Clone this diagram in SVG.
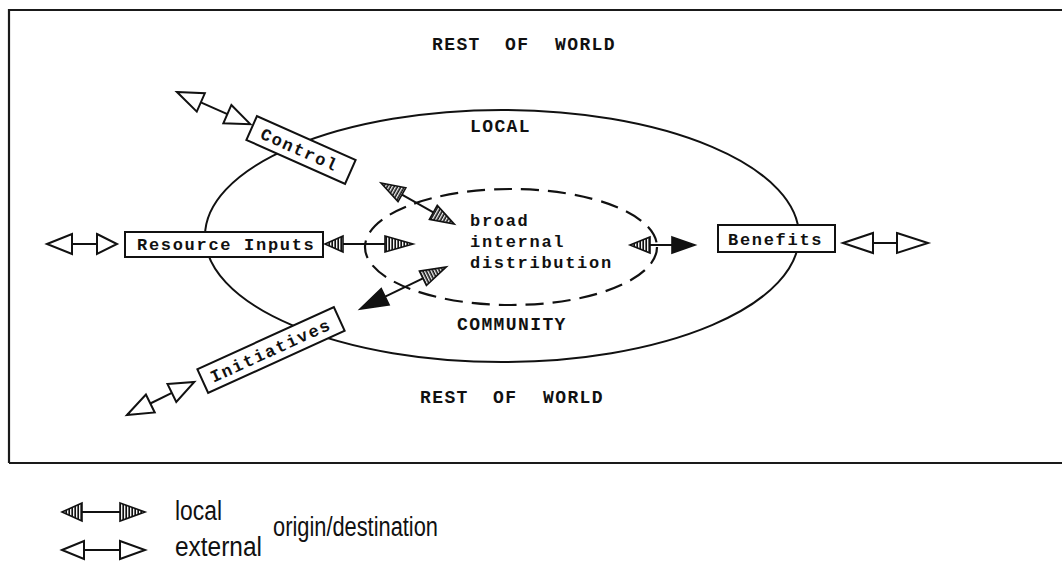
<svg xmlns="http://www.w3.org/2000/svg" width="1062" height="568" viewBox="0 0 1062 568">
<style>
.frame{fill:none;stroke:#1a1a1a;stroke-width:2.2}
.ell{fill:none;stroke:#111;stroke-width:2}
.dash{fill:none;stroke:#111;stroke-width:2.2;stroke-dasharray:18 9}
.box{fill:#fff;stroke:#111;stroke-width:2}
.mono{font-family:"Liberation Mono","DejaVu Sans Mono",monospace;font-size:17px;font-weight:bold;letter-spacing:1.7px;fill:#111}
.cap{font-family:"Liberation Mono","DejaVu Sans Mono",monospace;font-size:18px;font-weight:bold;letter-spacing:1.4px;fill:#111}
.leg{font-family:"Liberation Sans Narrow","Liberation Sans",Arial,sans-serif;font-size:27px;fill:#111}
.ext{fill:#fff;stroke:#111;stroke-width:2;stroke-linejoin:miter}
.shaft{stroke:#111;stroke-width:2;fill:none}
.loc{fill:url(#hatch);stroke:#111;stroke-width:1.6}
.solid{fill:#111;stroke:#111;stroke-width:1.6}
</style>
<defs>
<pattern id="hatch" patternUnits="userSpaceOnUse" width="3" height="3">
<rect width="3" height="3" fill="#fff"/>
<line x1="1.2" y1="0" x2="1.2" y2="3" stroke="#111" stroke-width="1.7"/>
</pattern>
</defs>

<!-- frame -->
<g id="frame">
<path class="frame" d="M9,463 L9,10 L1062,10"/>
<path class="frame" d="M9,463 L1062,463"/>
</g>

<!-- regions -->
<g id="local-community">
<ellipse class="ell" cx="502" cy="236" rx="297" ry="126"/>
</g>
<g id="internal-distribution">
<ellipse class="dash" cx="511" cy="247" rx="146" ry="58"/>
<text class="mono" x="470" y="226">broad</text>
<text class="mono" x="470" y="247">internal</text>
<text class="mono" x="470" y="268">distribution</text>
</g>

<g id="labels">
<text class="cap" x="432" y="50">REST</text>
<text class="cap" x="505" y="50">OF</text>
<text class="cap" x="555" y="50">WORLD</text>
<text class="cap" x="420" y="403">REST</text>
<text class="cap" x="493" y="403">OF</text>
<text class="cap" x="543" y="403">WORLD</text>
<text class="cap" x="470" y="132">LOCAL</text>
<text class="cap" x="457" y="330">COMMUNITY</text>
</g>

<!-- nodes -->
<g id="control" transform="translate(301,150) rotate(24)">
<rect class="box" x="-54" y="-13" width="108" height="26"/>
<text class="mono" x="-43" y="6">Control</text>
</g>
<g id="resource-inputs">
<rect class="box" x="125" y="232" width="198" height="25"/>
<text class="mono" x="137" y="250">Resource Inputs</text>
</g>
<g id="initiatives" transform="translate(271,350) rotate(-24.5)">
<rect class="box" x="-75" y="-13" width="150" height="26"/>
<text class="mono" x="-66" y="6">Initiatives</text>
</g>
<g id="benefits">
<rect class="box" x="718" y="225" width="117" height="27"/>
<text class="mono" x="728" y="245">Benefits</text>
</g>

<!-- connectors -->
<g id="connectors">
<!-- external arrows -->
<g transform="translate(177,92) rotate(23.7)">
<line class="shaft" x1="26" y1="0" x2="55" y2="0"/>
<polygon class="ext" points="0,0 26,-10 26,10"/>
<polygon class="ext" points="55,-10 80,0 55,10"/>
</g>
<g transform="translate(47,244)">
<line class="shaft" x1="25" y1="0" x2="50" y2="0"/>
<polygon class="ext" points="0,0 25,-10 25,10"/>
<polygon class="ext" points="50,-10 70,0 50,10"/>
</g>
<g transform="translate(127,415) rotate(-26.2)">
<line class="shaft" x1="26" y1="0" x2="50" y2="0"/>
<polygon class="ext" points="0,0 26,-10 26,10"/>
<polygon class="ext" points="50,-10 75,0 50,10"/>
</g>
<g transform="translate(843,243)">
<line class="shaft" x1="30" y1="0" x2="54" y2="0"/>
<polygon class="ext" points="0,0 30,-10 30,10"/>
<polygon class="ext" points="54,-10 85,0 54,10"/>
</g>
<!-- local arrows -->
<g transform="translate(325,244)">
<line class="shaft" x1="18" y1="0" x2="60" y2="0"/>
<polygon class="loc" points="0,0 18,-8 18,8"/>
<polygon class="loc" points="60,-8 88,0 60,8"/>
</g>
<g transform="translate(381,183) rotate(29.3)">
<line class="shaft" x1="24" y1="0" x2="60" y2="0"/>
<polygon class="loc" points="0,0 24,-8 24,8"/>
<polygon class="loc" points="60,-8 84,0 60,8"/>
</g>
<g transform="translate(360,309) rotate(-26)">
<line class="shaft" x1="28" y1="0" x2="70" y2="0"/>
<polygon class="solid" points="0,0 28,-9 28,9"/>
<polygon class="loc" points="70,-8 96,0 70,8"/>
</g>
<g transform="translate(630,245)">
<line class="shaft" x1="20" y1="0" x2="42" y2="0"/>
<polygon class="loc" points="0,0 20,-8 20,8"/>
<polygon class="solid" points="42,-8 65,0 42,8"/>
</g>
</g>

<!-- legend -->
<g id="legend">
<g transform="translate(62,512)">
<line class="shaft" x1="20" y1="0" x2="58" y2="0"/>
<polygon class="loc" points="0,0 20,-9 20,9"/>
<polygon class="loc" points="58,-9 83,0 58,9"/>
</g>
<g transform="translate(62,550)">
<line class="shaft" x1="22" y1="0" x2="58" y2="0"/>
<polygon class="ext" points="0,0 22,-9 22,9"/>
<polygon class="ext" points="58,-9 83,0 58,9"/>
</g>
<text class="leg" x="175" y="520" textLength="47" lengthAdjust="spacingAndGlyphs">local</text>
<text class="leg" x="175" y="556" textLength="87" lengthAdjust="spacingAndGlyphs">external</text>
<text class="leg" x="273" y="536" textLength="165" lengthAdjust="spacingAndGlyphs">origin/destination</text>
</g>
</svg>
